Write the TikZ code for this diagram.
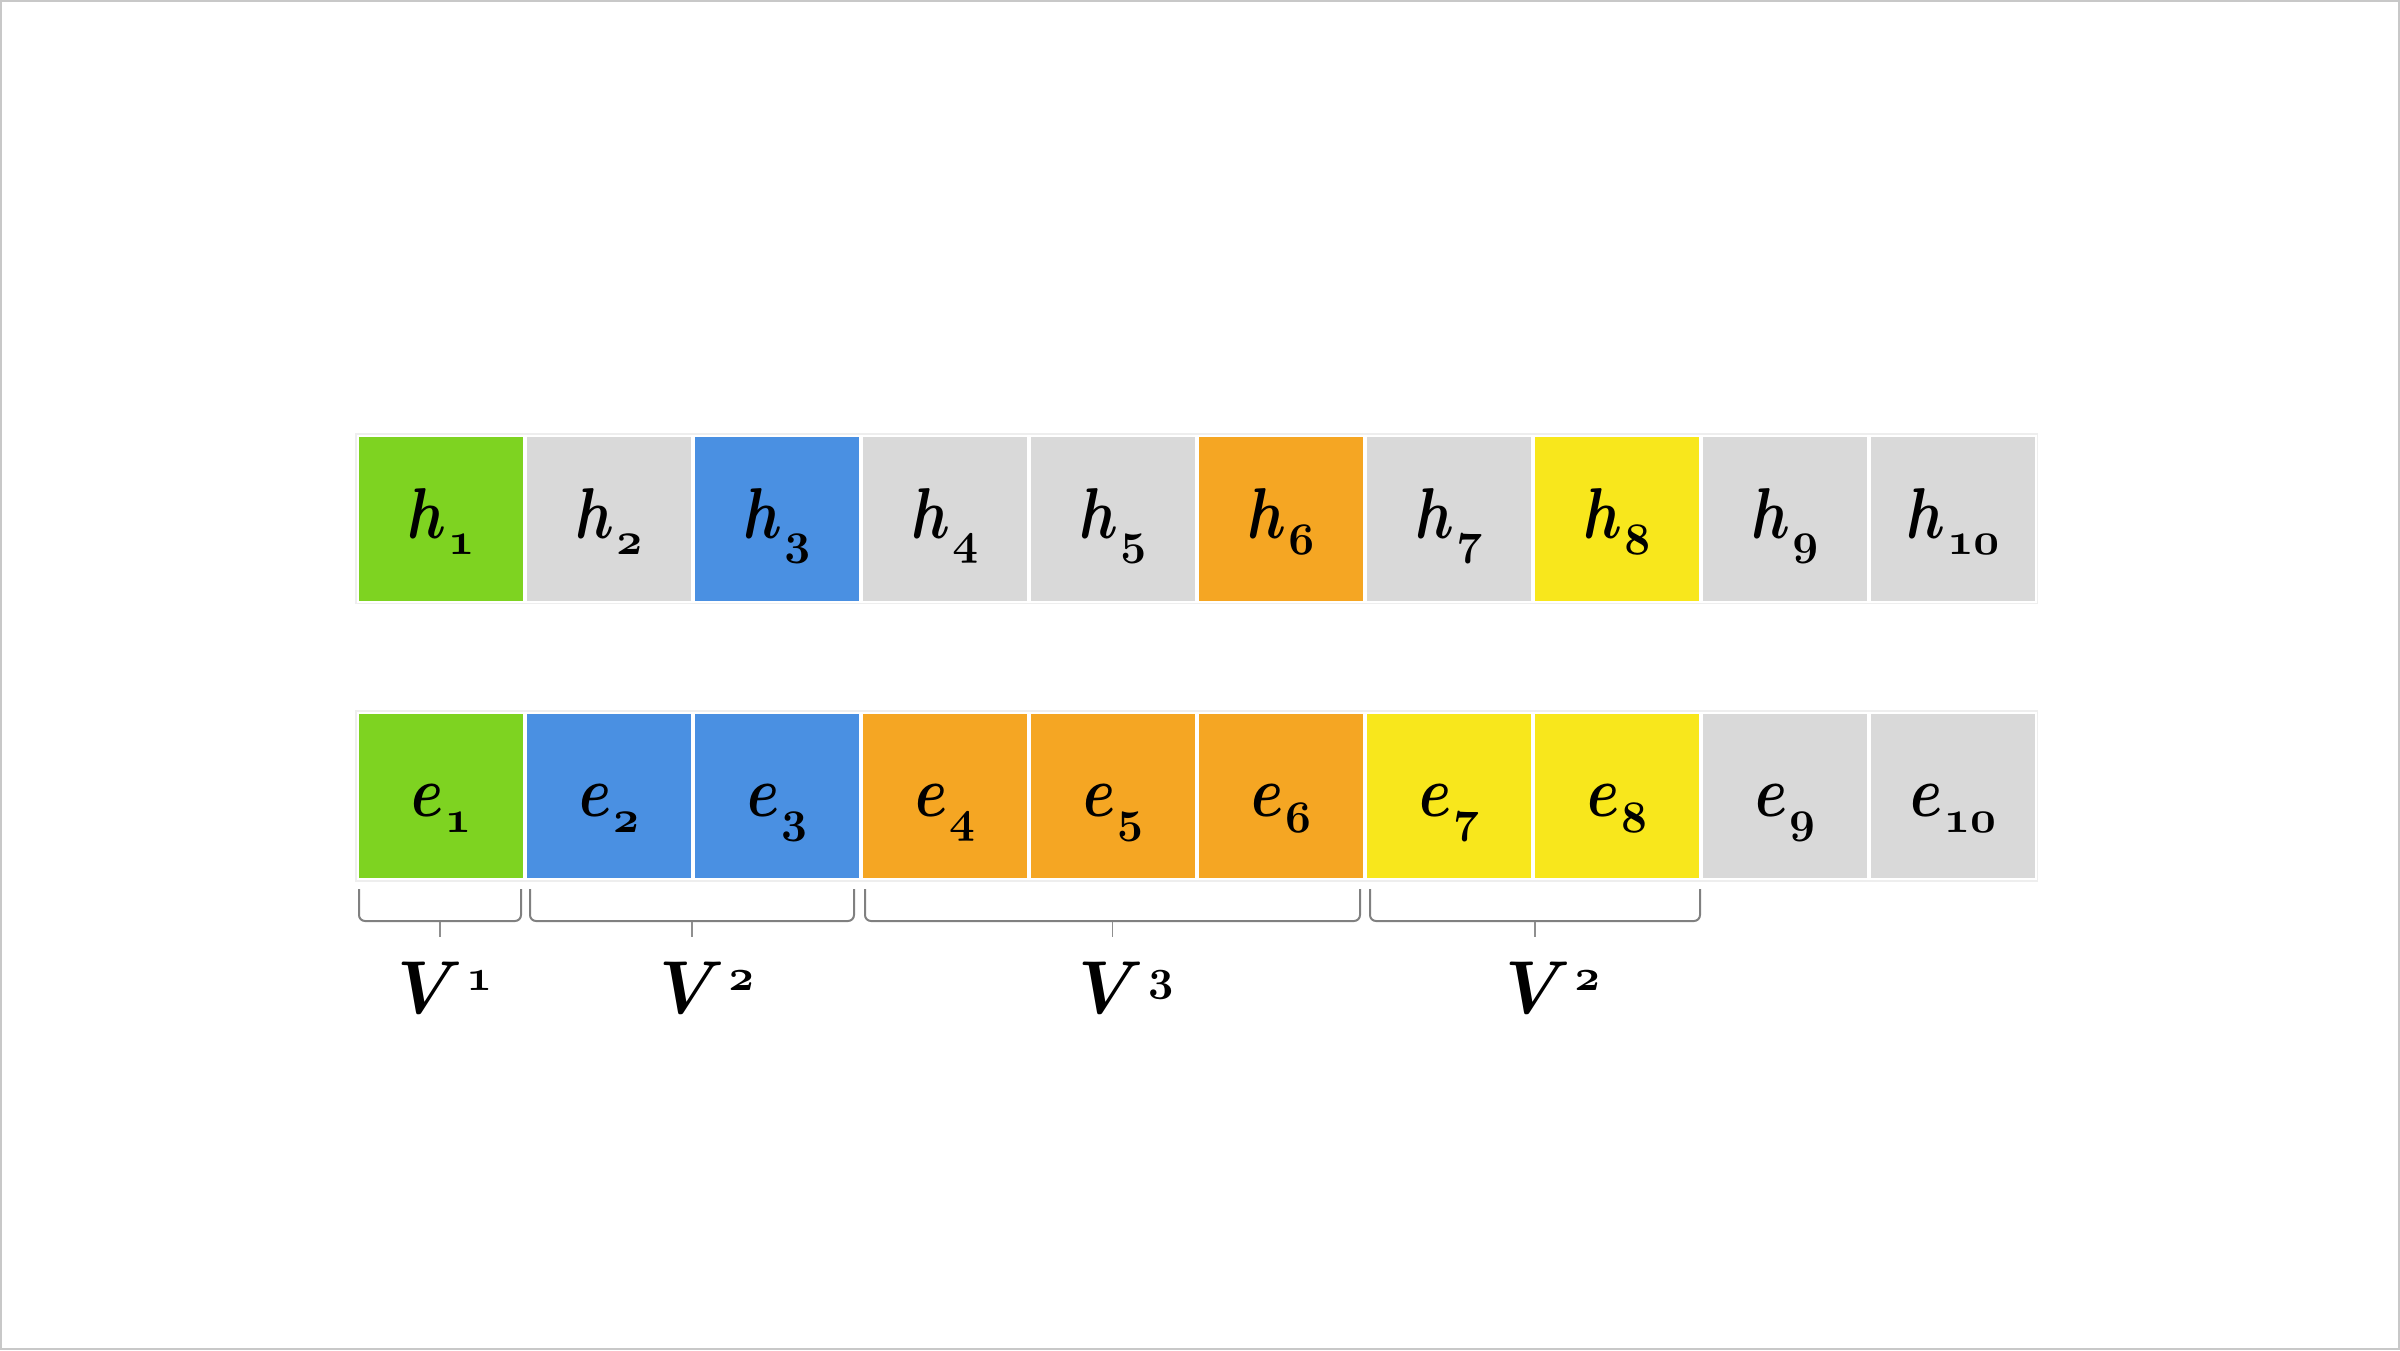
\documentclass[tikz,border=0pt]{standalone}
\usetikzlibrary{calc}
\definecolor{cgreen}{HTML}{7ED321}
\definecolor{cgrey}{HTML}{D9D9D9}
\definecolor{cblue}{HTML}{4A90E2}
\definecolor{corange}{HTML}{F5A623}
\definecolor{cyellow}{HTML}{F8E71C}
\definecolor{rowedge}{HTML}{EEEEEE}
\definecolor{bracegrey}{HTML}{808080}
\definecolor{stemgrey}{HTML}{8F8F8F}
\definecolor{framegrey}{HTML}{C8C8C8}
\tikzset{
  cell/.style={draw=white, line width=2pt, minimum width=166pt, minimum height=166pt, inner sep=0pt,
    text height=50pt, text depth=10pt},
  bracket/.style={draw=bracegrey, line width=2pt, rounded corners=6pt},
  stem/.style={draw=stemgrey, line width=1.6pt},
  vlabel/.style={anchor=base west, inner sep=0pt}
}
\newcommand{\cellsym}[2]{{\boldmath\scalebox{5.8}[7.2]{$#1$}}\hspace{2pt}\raisebox{-16pt}{\boldmath\scalebox{4.5}{$\mathnormal{#2}$}}}
\newcommand{\vsym}[1]{{\boldmath\scalebox{7.0}[7.5]{$V$}}\hspace{4pt}\raisebox{23pt}{\boldmath\scalebox{4.4}{$\mathnormal{#1}$}}}
\begin{document}
\begin{tikzpicture}[x=1pt,y=-1pt]
\useasboundingbox (0,0) rectangle (2400,1350);
\draw[framegrey, line width=2pt] (1,1) rectangle (2399,1349);
% row outlines
\draw[rowedge, line width=2pt] (356,434) rectangle (2037,603);
\draw[rowedge, line width=2pt] (356,711) rectangle (2037,881);
% top row
\node[cell, fill=cgreen]  (h1)  at (441,518.5)  {\cellsym{h}{1}};
\node[cell, fill=cgrey]   (h2)  at (609,518.5)  {\cellsym{h}{2}};
\node[cell, fill=cblue]   (h3)  at (777,518.5)  {\cellsym{h}{3}};
\node[cell, fill=cgrey]   (h4)  at (945,518.5)  {\cellsym{h}{4}};
\node[cell, fill=cgrey]   (h5)  at (1113,518.5) {\cellsym{h}{5}};
\node[cell, fill=corange] (h6)  at (1281,518.5) {\cellsym{h}{6}};
\node[cell, fill=cgrey]   (h7)  at (1449,518.5) {\cellsym{h}{7}};
\node[cell, fill=cyellow] (h8)  at (1617,518.5) {\cellsym{h}{8}};
\node[cell, fill=cgrey]   (h9)  at (1785,518.5) {\cellsym{h}{9}};
\node[cell, fill=cgrey]   (h10) at (1953,518.5) {\cellsym{h}{10}};
% bottom row
\node[cell, fill=cgreen]  (e1)  at (441,796)  {\cellsym{e}{1}};
\node[cell, fill=cblue]   (e2)  at (609,796)  {\cellsym{e}{2}};
\node[cell, fill=cblue]   (e3)  at (777,796)  {\cellsym{e}{3}};
\node[cell, fill=corange] (e4)  at (945,796)  {\cellsym{e}{4}};
\node[cell, fill=corange] (e5)  at (1113,796) {\cellsym{e}{5}};
\node[cell, fill=corange] (e6)  at (1281,796) {\cellsym{e}{6}};
\node[cell, fill=cyellow] (e7)  at (1449,796) {\cellsym{e}{7}};
\node[cell, fill=cyellow] (e8)  at (1617,796) {\cellsym{e}{8}};
\node[cell, fill=cgrey]   (e9)  at (1785,796) {\cellsym{e}{9}};
\node[cell, fill=cgrey]   (e10) at (1953,796) {\cellsym{e}{10}};
% brackets
\coordinate (b1l) at ($(e1.south west)+(2,9)$);
\coordinate (b1r) at ($(e1.south east)+(-4,9)$);
\coordinate (b2l) at ($(e2.south west)+(5,9)$);
\coordinate (b2r) at ($(e3.south east)+(-7,9)$);
\coordinate (b3l) at ($(e4.south west)+(4,9)$);
\coordinate (b3r) at ($(e6.south east)+(-5,9)$);
\coordinate (b4l) at ($(e7.south west)+(5,9)$);
\coordinate (b4r) at ($(e8.south east)+(-1,9)$);
\foreach \i/\lab/\off in {1/1/-43,2/2/-33,3/3/-34,4/2/-30}{
  \draw[bracket] (b\i l) -- ++(0,32) -| (b\i r);
  \coordinate (m\i) at ($(b\i l)!0.5!(b\i r)$);
  \draw[stem] ($(m\i)+(0,33)$) -- ($(m\i)+(0,48)$);
  \node[vlabel] (v\i) at ($(m\i)+(\off,124)$) {\vsym{\lab}};
}
\end{tikzpicture}
\end{document}
